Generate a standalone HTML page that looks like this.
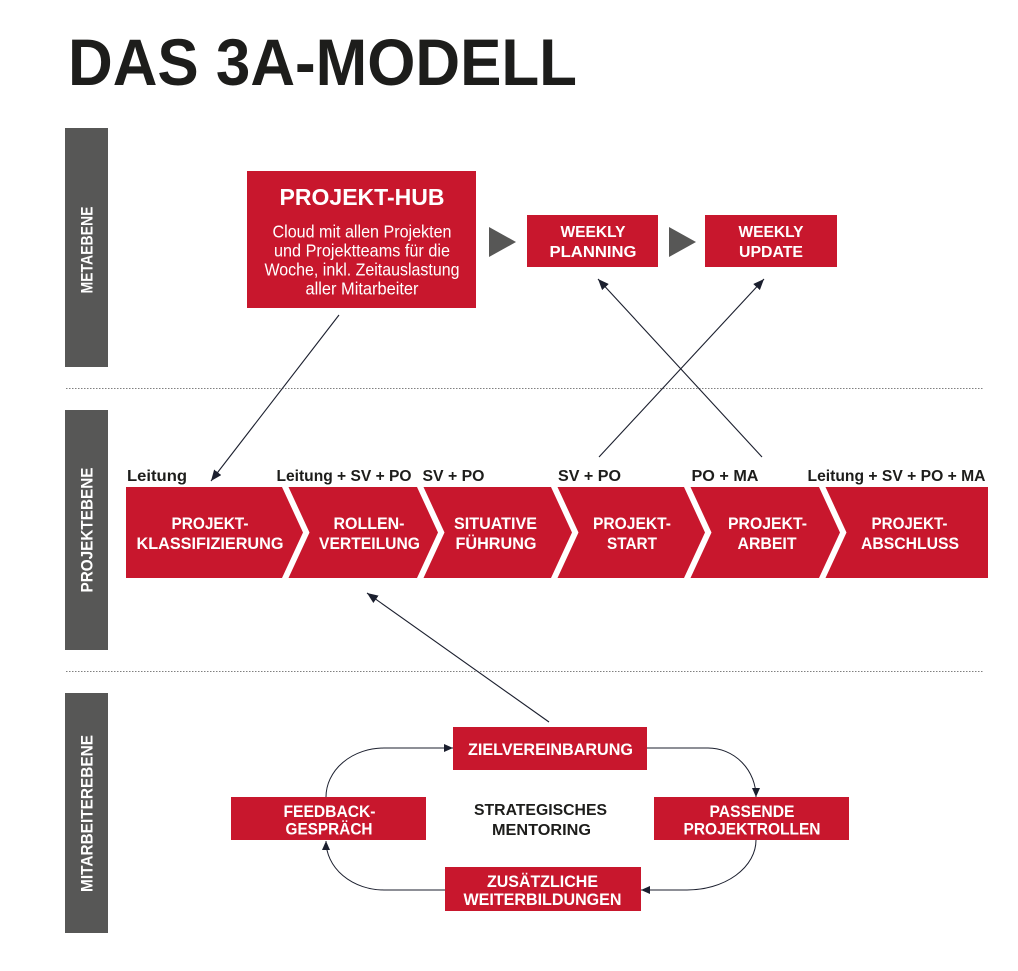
<!DOCTYPE html>
<html><head><meta charset="utf-8"><style>
html,body{margin:0;padding:0;background:#fff;}
svg{display:block;}
text{font-family:"Liberation Sans",Arial,sans-serif;}
</style></head><body>
<svg width="1018" height="971" viewBox="0 0 1018 971" xmlns="http://www.w3.org/2000/svg">
<defs>
<marker id="ah" markerUnits="userSpaceOnUse" markerWidth="11" markerHeight="9" refX="11" refY="4.5" orient="auto">
<path d="M0,0 L11,4.5 L0,9 z" fill="#1b1f2e"/>
</marker>
<marker id="ah2" markerUnits="userSpaceOnUse" markerWidth="9" markerHeight="8" refX="9" refY="4" orient="auto">
<path d="M0,0 L9,4 L0,8 z" fill="#1b1f2e"/>
</marker>
</defs>

<!-- Title -->
<text x="68" y="85" font-size="66" font-weight="bold" fill="#1d1d1b" textLength="509" lengthAdjust="spacingAndGlyphs">DAS 3A-MODELL</text>

<!-- Side bars -->
<rect x="65" y="128" width="43" height="239" fill="#575756"/>
<rect x="65" y="410" width="43" height="240" fill="#575756"/>
<rect x="65" y="693" width="43" height="240" fill="#575756"/>
<g font-size="17" font-weight="bold" fill="#fff" text-anchor="middle">
<text x="86.5" y="256" transform="rotate(-90 86.5 250)" textLength="87" lengthAdjust="spacingAndGlyphs">METAEBENE</text>
<text x="86.5" y="536" transform="rotate(-90 86.5 530)" textLength="125" lengthAdjust="spacingAndGlyphs">PROJEKTEBENE</text>
<text x="86.5" y="819.5" transform="rotate(-90 86.5 813.5)" textLength="157" lengthAdjust="spacingAndGlyphs">MITARBEITEREBENE</text>
</g>

<!-- Dotted separators -->
<line x1="66" y1="388.5" x2="983" y2="388.5" stroke="#808080" stroke-width="1" stroke-dasharray="1.5 1.5"/>
<line x1="66" y1="671.5" x2="983" y2="671.5" stroke="#808080" stroke-width="1" stroke-dasharray="1.5 1.5"/>

<!-- Projekt-Hub -->
<rect x="247" y="171" width="229" height="137" fill="#c8172d"/>
<text x="362" y="205" font-size="23.5" font-weight="bold" fill="#fff" text-anchor="middle" textLength="165" lengthAdjust="spacingAndGlyphs">PROJEKT-HUB</text>
<g font-size="17.5" fill="#fff" text-anchor="middle">
<text x="362" y="237.5" textLength="179" lengthAdjust="spacingAndGlyphs">Cloud mit allen Projekten</text>
<text x="362" y="256.5" textLength="176" lengthAdjust="spacingAndGlyphs">und Projektteams für die</text>
<text x="362" y="275.5" textLength="195" lengthAdjust="spacingAndGlyphs">Woche, inkl. Zeitauslastung</text>
<text x="362" y="294.5" textLength="113" lengthAdjust="spacingAndGlyphs">aller Mitarbeiter</text>
</g>

<!-- Triangles -->
<polygon points="489,227 516,242 489,257" fill="#575756"/>
<polygon points="669,227 696,242 669,257" fill="#575756"/>

<!-- Weekly boxes -->
<rect x="527" y="215" width="131" height="52" fill="#c8172d"/>
<rect x="705" y="215" width="132" height="52" fill="#c8172d"/>
<g font-size="16" font-weight="bold" fill="#fff" text-anchor="middle">
<text x="593" y="237" textLength="65" lengthAdjust="spacingAndGlyphs">WEEKLY</text>
<text x="593" y="257" textLength="87" lengthAdjust="spacingAndGlyphs">PLANNING</text>
<text x="771" y="237" textLength="65" lengthAdjust="spacingAndGlyphs">WEEKLY</text>
<text x="771" y="257" textLength="64" lengthAdjust="spacingAndGlyphs">UPDATE</text>
</g>

<!-- Chevrons -->
<g fill="#c8172d">
<polygon points="126,487 282,487 303,532.5 282,578 126,578"/>
<polygon points="288.5,487 417,487 438,532.5 417,578 288.5,578 309.5,532.5"/>
<polygon points="423.5,487 551,487 572,532.5 551,578 423.5,578 444.5,532.5"/>
<polygon points="557.5,487 684,487 705,532.5 684,578 557.5,578 578.5,532.5"/>
<polygon points="690.5,487 819,487 840,532.5 819,578 690.5,578 711.5,532.5"/>
<polygon points="825.5,487 988,487 988,578 825.5,578 846.5,532.5"/>
</g>
<g font-size="17" font-weight="bold" fill="#fff" text-anchor="middle">
<text x="210" y="529" textLength="77" lengthAdjust="spacingAndGlyphs">PROJEKT-</text>
<text x="210" y="549" textLength="147" lengthAdjust="spacingAndGlyphs">KLASSIFIZIERUNG</text>
<text x="369" y="529" textLength="71" lengthAdjust="spacingAndGlyphs">ROLLEN-</text>
<text x="369.5" y="549" textLength="101" lengthAdjust="spacingAndGlyphs">VERTEILUNG</text>
<text x="495.5" y="529" textLength="83" lengthAdjust="spacingAndGlyphs">SITUATIVE</text>
<text x="496" y="549" textLength="81" lengthAdjust="spacingAndGlyphs">FÜHRUNG</text>
<text x="632" y="529" textLength="78" lengthAdjust="spacingAndGlyphs">PROJEKT-</text>
<text x="632" y="549" textLength="50" lengthAdjust="spacingAndGlyphs">START</text>
<text x="767.5" y="529" textLength="79" lengthAdjust="spacingAndGlyphs">PROJEKT-</text>
<text x="767" y="549" textLength="59" lengthAdjust="spacingAndGlyphs">ARBEIT</text>
<text x="909.5" y="529" textLength="76" lengthAdjust="spacingAndGlyphs">PROJEKT-</text>
<text x="910" y="549" textLength="98" lengthAdjust="spacingAndGlyphs">ABSCHLUSS</text>
</g>

<!-- Role labels -->
<g font-size="15.5" font-weight="bold" fill="#1d1d1b">
<text x="127" y="481" textLength="60" lengthAdjust="spacingAndGlyphs">Leitung</text>
<text x="276.5" y="481" textLength="135" lengthAdjust="spacingAndGlyphs">Leitung + SV + PO</text>
<text x="422.5" y="481" textLength="62" lengthAdjust="spacingAndGlyphs">SV + PO</text>
<text x="558" y="481" textLength="63" lengthAdjust="spacingAndGlyphs">SV + PO</text>
<text x="691.5" y="481" textLength="67" lengthAdjust="spacingAndGlyphs">PO + MA</text>
<text x="807.5" y="481" textLength="178" lengthAdjust="spacingAndGlyphs">Leitung + SV + PO + MA</text>
</g>

<!-- Straight arrows -->
<g stroke="#1b1f2e" stroke-width="1.1" fill="none">
<line x1="339" y1="315" x2="211" y2="481" marker-end="url(#ah)"/>
<line x1="599" y1="457" x2="764" y2="279" marker-end="url(#ah)"/>
<line x1="762" y1="457" x2="598" y2="279" marker-end="url(#ah)"/>
<line x1="549" y1="722" x2="367" y2="593" marker-end="url(#ah)"/>
</g>

<!-- Bottom cycle boxes -->
<g fill="#c8172d">
<rect x="453" y="727" width="194" height="43"/>
<rect x="231" y="797" width="195" height="43"/>
<rect x="654" y="797" width="195" height="43"/>
<rect x="445" y="867" width="196" height="44"/>
</g>
<g font-size="16.5" font-weight="bold" fill="#fff" text-anchor="middle">
<text x="550.5" y="755" textLength="165" lengthAdjust="spacingAndGlyphs">ZIELVEREINBARUNG</text>
<text x="329.5" y="817" textLength="92" lengthAdjust="spacingAndGlyphs">FEEDBACK-</text>
<text x="329" y="834.5" textLength="87" lengthAdjust="spacingAndGlyphs">GESPRÄCH</text>
<text x="752" y="817" textLength="85" lengthAdjust="spacingAndGlyphs">PASSENDE</text>
<text x="752" y="834.5" textLength="137" lengthAdjust="spacingAndGlyphs">PROJEKTROLLEN</text>
<text x="542.5" y="887" textLength="111" lengthAdjust="spacingAndGlyphs">ZUSÄTZLICHE</text>
<text x="542.5" y="905" textLength="158" lengthAdjust="spacingAndGlyphs">WEITERBILDUNGEN</text>
</g>
<g font-size="16" font-weight="bold" fill="#1d1d1b" text-anchor="middle">
<text x="540.5" y="815" textLength="133" lengthAdjust="spacingAndGlyphs">STRATEGISCHES</text>
<text x="541.5" y="835" textLength="99" lengthAdjust="spacingAndGlyphs">MENTORING</text>
</g>

<!-- Cycle curves -->
<g stroke="#1b1f2e" stroke-width="1" fill="none">
<path d="M326,797 A58,49 0 0 1 384,748 L453,748" marker-end="url(#ah2)"/>
<path d="M647,748 L708,748 A48,49 0 0 1 756,797" marker-end="url(#ah2)"/>
<path d="M756,840 A69,50 0 0 1 687,890 L641,890" marker-end="url(#ah2)"/>
<path d="M445,890 L384,890 A58,49 0 0 1 326,841" marker-end="url(#ah2)"/>
</g>
</svg>
</body></html>
